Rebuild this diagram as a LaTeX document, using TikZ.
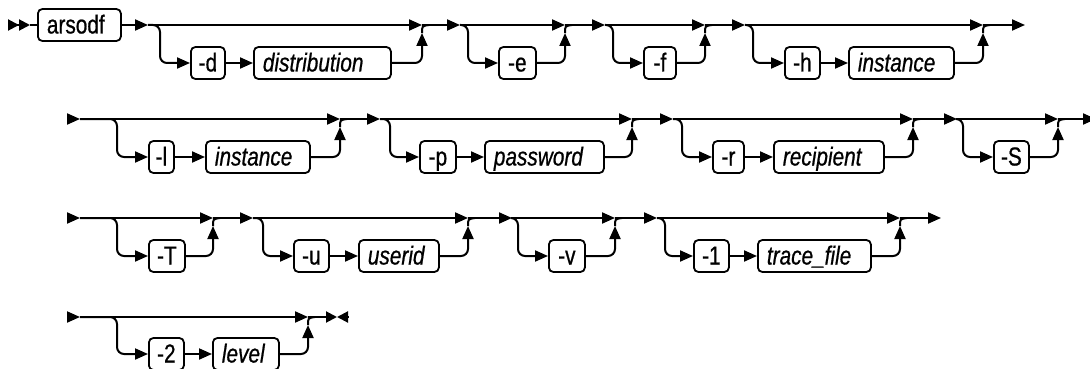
\documentclass[tikz,border=0pt]{standalone}
\usepackage{fontspec}
\setmainfont{Liberation Sans}[FakeStretch=0.8,FakeBold=0.7]
\usetikzlibrary{arrows.meta}
\hyphenpenalty=10000 \exhyphenpenalty=10000

\begin{document}
\begin{tikzpicture}[x=1pt,y=-1pt]
  \tikzset{ln/.style={line width=2pt},
    ar/.style={ln, -{Triangle[length=13pt,width=11pt]}},
    br/.style={ar, rounded corners=7pt},
    kw/.style={draw, line width=1.8pt, rounded corners=4.5pt, anchor=west, minimum height=32pt, inner xsep=0pt, inner ysep=0pt, text height=20pt, text depth=3pt, font=\fontsize{26}{30}\selectfont},
    vr/.style={kw, inner xsep=9pt, align=left, font=\fontsize{26}{30}\selectfont\itshape}}
\useasboundingbox (0,0) rectangle (1090,369);
% row 1
\coordinate (st) at (8,25); \coordinate (stb) at (30,25);
\node[vr, font=\fontsize{26}{30}\selectfont, text width=65pt] (arsodf) at (37,25) {arsodf};
\draw[ln, -{Triangle[length=11pt,width=11pt]Triangle[length=11pt,width=11pt]}] (st) -- (stb);
\draw[ln] (stb) -- (arsodf);
\coordinate (d-s) at (148,25); \coordinate (d-b) at (160,63); \coordinate (d-r) at (422,33); \coordinate (d-u) at (422,25);
\node[kw, minimum width=34pt] (optd) at (190,63) {-d};
\node[vr, text width=119pt] (dist) at (253,63) {distribution};
\draw[ar] (arsodf) -- (d-s); \draw[ar] (d-s) -- (d-u);
\draw[br] (d-s) -| (d-b) -- (optd); \draw[ar] (optd) -- (dist);
\draw[br] (dist) -| (d-r); \draw[ln] (d-r) .. controls +(0,-7) .. +(7,-8);
\coordinate (e-s) at (460,25); \coordinate (e-b) at (468,63); \coordinate (e-r) at (565,33); \coordinate (e-u) at (565,25);
\node[kw, minimum width=37pt] (opte) at (498,63) {-e};
\draw[ar] (d-u) -- (e-s); \draw[ar] (e-s) -- (e-u);
\draw[br] (e-s) -| (e-b) -- (opte);
\draw[br] (opte) -| (e-r); \draw[ln] (e-r) .. controls +(0,-7) .. +(7,-8);
\coordinate (f-s) at (605,25); \coordinate (f-b) at (613,63); \coordinate (f-r) at (705,33); \coordinate (f-u) at (705,25);
\node[kw, minimum width=32pt] (optf) at (643,63) {-f};
\draw[ar] (e-u) -- (f-s); \draw[ar] (f-s) -- (f-u);
\draw[br] (f-s) -| (f-b) -- (optf);
\draw[br] (optf) -| (f-r); \draw[ln] (f-r) .. controls +(0,-7) .. +(7,-8);
\coordinate (h-s) at (745,25); \coordinate (h-b) at (753,63); \coordinate (h-r) at (983,33); \coordinate (h-u) at (983,25);
\node[kw, minimum width=35pt] (opth) at (784,63) {-h};
\node[vr, text width=87pt] (insth) at (848,63) {instance};
\draw[ar] (f-u) -- (h-s); \draw[ar] (h-s) -- (h-u);
\draw[br] (h-s) -| (h-b) -- (opth); \draw[ar] (opth) -- (insth);
\draw[br] (insth) -| (h-r); \draw[ln] (h-r) .. controls +(0,-7) .. +(7,-8);
\coordinate (r1e) at (1025,25); \draw[ar] (h-u) -- (r1e);
% row 2
\coordinate (r2) at (67,119);
\coordinate (l-s) at (80,119); \coordinate (l-b) at (117,157); \coordinate (l-r) at (340,127); \coordinate (l-u) at (340,119);
\node[kw, minimum width=25pt] (optl) at (148,157) {-l};
\node[vr, text width=86pt] (instl) at (205,157) {instance};
\draw[ar] (r2) -- (l-s); \draw[ar] (l-s) -- (l-u);
\draw[br] (l-s) -| (l-b) -- (optl); \draw[ar] (optl) -- (instl);
\draw[br] (instl) -| (l-r); \draw[ln] (l-r) .. controls +(0,-7) .. +(7,-8);
\coordinate (p-s) at (380,119); \coordinate (p-b) at (390,157); \coordinate (p-r) at (632,127); \coordinate (p-u) at (632,119);
\node[kw, minimum width=36pt] (optp) at (419,157) {-p};
\node[vr, text width=101pt] (pwd) at (484,157) {password};
\draw[ar] (l-u) -- (p-s); \draw[ar] (p-s) -- (p-u);
\draw[br] (p-s) -| (p-b) -- (optp); \draw[ar] (optp) -- (pwd);
\draw[br] (pwd) -| (p-r); \draw[ln] (p-r) .. controls +(0,-7) .. +(7,-8);
\coordinate (r-s) at (673,119); \coordinate (r-b) at (682,157); \coordinate (r-r) at (913,127); \coordinate (r-u) at (913,119);
\node[kw, minimum width=31pt] (optr) at (712,157) {-r};
\node[vr, text width=92pt] (recip) at (773,157) {recipient};
\draw[ar] (p-u) -- (r-s); \draw[ar] (r-s) -- (r-u);
\draw[br] (r-s) -| (r-b) -- (optr); \draw[ar] (optr) -- (recip);
\draw[br] (recip) -| (r-r); \draw[ln] (r-r) .. controls +(0,-7) .. +(7,-8);
\coordinate (S-s) at (957,119); \coordinate (S-b) at (963,157); \coordinate (S-r) at (1058,127); \coordinate (S-u) at (1058,119);
\node[kw, minimum width=35pt] (optS) at (993,157) {-S};
\draw[ar] (r-u) -- (S-s); \draw[ar] (S-s) -- (S-u);
\draw[br] (S-s) -| (S-b) -- (optS);
\draw[br] (optS) -| (S-r); \draw[ln] (S-r) .. controls +(0,-7) .. +(7,-8);
\coordinate (r2e) at (1096,119); \draw[ar] (S-u) -- (r2e);
% row 3
\coordinate (r3) at (67,218);
\coordinate (T-s) at (80,218); \coordinate (T-b) at (117,256); \coordinate (T-r) at (213,226); \coordinate (T-u) at (213,218);
\node[kw, minimum width=36pt] (optT) at (148,256) {-T};
\draw[ar] (r3) -- (T-s); \draw[ar] (T-s) -- (T-u);
\draw[br] (T-s) -| (T-b) -- (optT);
\draw[br] (optT) -| (T-r); \draw[ln] (T-r) .. controls +(0,-7) .. +(7,-8);
\coordinate (u-s) at (253,218); \coordinate (u-b) at (263,256); \coordinate (u-r) at (468,226); \coordinate (u-u) at (468,218);
\node[kw, minimum width=35pt] (optu) at (293,256) {-u};
\node[vr, text width=62pt] (uid) at (358,256) {userid};
\draw[ar] (T-u) -- (u-s); \draw[ar] (u-s) -- (u-u);
\draw[br] (u-s) -| (u-b) -- (optu); \draw[ar] (optu) -- (uid);
\draw[br] (uid) -| (u-r); \draw[ln] (u-r) .. controls +(0,-7) .. +(7,-8);
\coordinate (v-s) at (512,218); \coordinate (v-b) at (518,256); \coordinate (v-r) at (615,226); \coordinate (v-u) at (615,218);
\node[kw, minimum width=36pt] (optv) at (548,256) {-v};
\draw[ar] (u-u) -- (v-s); \draw[ar] (v-s) -- (v-u);
\draw[br] (v-s) -| (v-b) -- (optv);
\draw[br] (optv) -| (v-r); \draw[ln] (v-r) .. controls +(0,-7) .. +(7,-8);
\coordinate (1-s) at (657,218); \coordinate (1-b) at (665,256); \coordinate (1-r) at (900,226); \coordinate (1-u) at (900,218);
\node[kw, minimum width=35pt] (opt1) at (693,256) {-1};
\node[vr, text width=95pt] (trc) at (757,256) {trace\_file};
\draw[ar] (v-u) -- (1-s); \draw[ar] (1-s) -- (1-u);
\draw[br] (1-s) -| (1-b) -- (opt1); \draw[ar] (opt1) -- (trc);
\draw[br] (trc) -| (1-r); \draw[ln] (1-r) .. controls +(0,-7) .. +(7,-8);
\coordinate (r3e) at (941,218); \draw[ar] (1-u) -- (r3e);
% row 4
\coordinate (r4) at (67,317);
\coordinate (2-s) at (80,317); \coordinate (2-b) at (117,354); \coordinate (2-r) at (308,325); \coordinate (2-u) at (308,317);
\node[kw, minimum width=35pt] (opt2) at (148,354) {-2};
\node[vr, text width=48pt] (lvl) at (212,354) {level};
\draw[ar] (r4) -- (2-s); \draw[ar] (2-s) -- (2-u);
\draw[br] (2-s) -| (2-b) -- (opt2); \draw[ar] (opt2) -- (lvl);
\draw[br] (lvl) -| (2-r); \draw[ln] (2-r) .. controls +(0,-7) .. +(7,-8);
\coordinate (en) at (337,317); \coordinate (enb) at (349,317);
\draw[ln, -{Triangle[length=11pt,width=11pt]}] (2-u) -- (en);
\draw[ln, {Triangle[length=11pt,width=11pt]}-] (en) -- (enb);
\end{tikzpicture}
\end{document}
